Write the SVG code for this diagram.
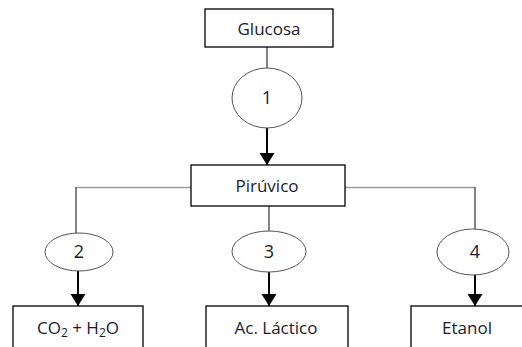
<svg xmlns="http://www.w3.org/2000/svg" width="522" height="347" viewBox="0 0 522 347">
<defs>
<marker id="arr" markerUnits="userSpaceOnUse" markerWidth="16" markerHeight="16" refX="12" refY="8" orient="auto">
<path d="M0,0.5 L12,8 L0,15.5 Z" fill="#000"/>
</marker>
<style>
.box{fill:#fff;stroke:#000;stroke-width:1.3}
.ell{fill:#fff;stroke:#555;stroke-width:1}
.t{font-family:"Open Sans","Liberation Sans",Arial,sans-serif;font-size:17px;fill:#1a1a2e;text-anchor:middle}
.n{font-family:"Open Sans","Liberation Sans",Arial,sans-serif;font-size:18px;fill:#1a1a2e;text-anchor:middle}
.thin{stroke:#333;stroke-width:1.2;fill:none}
.gray{stroke:#9a9a9a;stroke-width:1.6;fill:none}
.arrow{stroke:#000;stroke-width:2;fill:none;marker-end:url(#arr)}
</style>
</defs>
<rect width="522" height="347" fill="#fff"/>
<g id="connectors">
<line class="thin" x1="267" y1="47" x2="267" y2="68"/>
<line class="gray" x1="76" y1="187.5" x2="192" y2="187.5"/>
<line class="gray" x1="345" y1="187.5" x2="475" y2="187.5"/>
<line class="thin" x1="76" y1="187" x2="76" y2="233"/>
<line class="thin" x1="269" y1="206" x2="269" y2="231"/>
<line class="thin" x1="475" y1="187" x2="475" y2="229"/>
<line class="arrow" x1="267" y1="126" x2="267" y2="165"/>
<line class="arrow" x1="78" y1="268" x2="78" y2="306"/>
<line class="arrow" x1="269" y1="270" x2="269" y2="306"/>
<line class="arrow" x1="475" y1="267" x2="475" y2="306"/>
</g>
<g id="ellipse1"><ellipse class="ell" cx="267" cy="98" rx="35" ry="30"/><text class="n" x="267" y="104">1</text></g>
<g id="ellipse2"><ellipse class="ell" cx="79" cy="252" rx="34" ry="19"/><text class="n" x="79" y="258">2</text></g>
<g id="ellipse3"><ellipse class="ell" cx="269" cy="251.5" rx="37" ry="20.5"/><text class="n" x="269" y="258">3</text></g>
<g id="ellipse4"><ellipse class="ell" cx="473" cy="252" rx="36" ry="23"/><text class="n" x="475" y="258">4</text></g>
<g id="glucosa"><rect class="box" x="205" y="9" width="128" height="38"/><text class="t" x="269" y="35">Glucosa</text></g>
<g id="piruvico"><rect class="box" x="191" y="165" width="154" height="41"/><text class="t" x="267" y="192">Pirúvico</text></g>
<g id="co2"><rect class="box" x="13" y="306" width="130" height="45"/><text class="t" x="78" y="334">CO<tspan font-size="12" dy="3">2</tspan><tspan dy="-3"> + H</tspan><tspan font-size="12" dy="3">2</tspan><tspan dy="-3">O</tspan></text></g>
<g id="lactico"><rect class="box" x="206" y="306" width="142" height="45"/><text class="t" x="276" y="334">Ac. Láctico</text></g>
<g id="etanol"><rect class="box" x="411" y="306" width="120" height="45"/><text class="t" x="467" y="334">Etanol</text></g>
</svg>
